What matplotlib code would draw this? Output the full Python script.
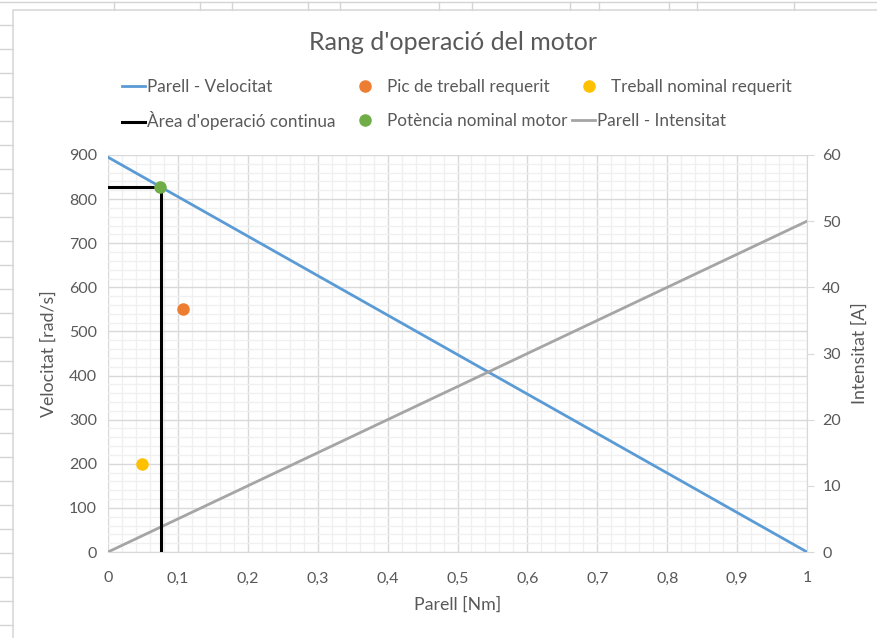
import matplotlib
matplotlib.use('agg')
import matplotlib.pyplot as plt
from matplotlib.lines import Line2D
from matplotlib.ticker import MultipleLocator, FuncFormatter

plt.rcParams['font.family'] = ['Lato', 'DejaVu Sans']

# torque - speed characteristic
parell = [0, 1]
velocitat = [895, 0]
# torque - current characteristic
intensitat = [0, 50]

# continuous operation boundary
area_x = [0, 0.076, 0.076]
area_y = [828, 828, 0]

# working points
pic_x, pic_y = [0.108], [550]
nominal_x, nominal_y = [0.048], [200]
potencia_x, potencia_y = [0.075], [828]

txt = '#595959'
blue = '#5B9BD5'
orange = '#ED7D31'
grey = '#A5A5A5'
yellow = '#FFC000'
green = '#70AD47'

W, H = 877, 638
fig = plt.figure(figsize=(W / 100, H / 100), dpi=100)

# spreadsheet cells behind the chart
cell = '#D4D4D4'
fig.add_artist(Line2D([0, 1], [1 - 2 / H, 1 - 2 / H], color=cell, lw=1))
for xp in [114, 200, 232, 308, 340, 439, 472, 570, 599, 669, 697, 794]:
    fig.add_artist(Line2D([xp / W, xp / W], [1 - 2 / H, 1 - 10 / H], color=cell, lw=1))
yp = 25
while yp < H:
    fig.add_artist(Line2D([0, 13 / W], [1 - yp / H, 1 - yp / H], color=cell, lw=1))
    yp += 24
# chart frame
fig.add_artist(Line2D([13 / W, 13 / W, 1], [0, 1 - 10 / H, 1 - 10 / H], color='#D9D9D9', lw=1.2))

ax = fig.add_axes([108 / W, 1 - 552 / H, 699 / W, 397 / H])
ax2 = ax.twinx()

ax.set_xlim(0, 1)
ax.set_ylim(0, 900)
ax2.set_ylim(0, 60)

ax.xaxis.set_major_locator(MultipleLocator(0.1))
ax.xaxis.set_minor_locator(MultipleLocator(0.02))
ax.yaxis.set_major_locator(MultipleLocator(100))
ax.yaxis.set_minor_locator(MultipleLocator(20))
ax2.yaxis.set_major_locator(MultipleLocator(10))

ax.grid(which='minor', color='#F0F0F0', lw=1)
ax.grid(which='major', color='#D9D9D9', lw=1)
ax.set_axisbelow(True)

ax.xaxis.set_major_formatter(FuncFormatter(lambda v, p: ('%g' % round(v, 2)).replace('.', ',')))

for s in ['top', 'left', 'right', 'bottom']:
    ax.spines[s].set_visible(False)
    ax2.spines[s].set_visible(False)
ax.spines['bottom'].set_visible(True)
ax.spines['bottom'].set_color('#D9D9D9')
ax2.spines['right'].set_visible(True)
ax2.spines['right'].set_color('#D9D9D9')

ax.tick_params(axis='both', which='both', length=0, labelsize=11.5, labelcolor=txt, pad=8)
ax.tick_params(axis='x', pad=14)
ax2.tick_params(axis='y', which='major', length=5, color='#D9D9D9', labelsize=11.5, labelcolor=txt, pad=6)
ax2.tick_params(axis='y', which='minor', length=0)

l1, = ax.plot(parell, velocitat, color=blue, lw=2, label='Parell - Velocitat', zorder=3)
l3, = ax2.plot(parell, intensitat, color=grey, lw=2, label='Parell - Intensitat', zorder=3)
# boundary and points sit on the twin axes so they are drawn over the current line
l2, = ax2.plot(area_x, area_y, color='black', lw=2.2, label="Àrea d'operació continua",
               transform=ax.transData, zorder=4)
p1, = ax2.plot(pic_x, pic_y, 'o', color=orange, ms=8, label='Pic de treball requerit',
               transform=ax.transData, zorder=5)
p2, = ax2.plot(nominal_x, nominal_y, 'o', color=yellow, ms=8, label='Treball nominal requerit',
               transform=ax.transData, zorder=5)
p3, = ax2.plot(potencia_x, potencia_y, 'o', color=green, ms=8, label='Potència nominal motor',
               transform=ax.transData, zorder=5)
ax2.set_ylim(0, 60)

ax.set_xlabel('Parell [Nm]', fontsize=12.8, color=txt, va='center')
ax.set_ylabel('Velocitat [rad/s]', fontsize=12.8, color=txt, va='center')
ax2.set_ylabel('Intensitat [A]', fontsize=12.8, color=txt, va='center')
ax.xaxis.set_label_coords(0.5, (552 - 605) / 397)
ax.yaxis.set_label_coords((49 - 108) / 699, 0.5)
ax2.yaxis.set_label_coords((860 - 108) / 699, 0.5)

fig.text(453 / W, 1 - 42 / H, "Rang d'operació del motor", ha='center', va='center',
         fontsize=18, color=txt)

# legend entries laid out on two rows
entries = [(l1, 122, 87, 0.17), (p1, 354, 87, 0.6), (p2, 578, 87, 0.6),
           (l2, 122, 121, 0.17), (p3, 354, 121, 0.6), (l3, 572, 121, 0.17)]
for h, ex, ey, pad in entries:
    lg = fig.legend(handles=[h], loc='center left', bbox_to_anchor=(ex / W, 1 - ey / H),
                    frameon=False, fontsize=12.3, handlelength=1.32, handletextpad=pad,
                    borderpad=0, borderaxespad=0)
    for t in lg.get_texts():
        t.set_color(txt)

fig.savefig('out.png', dpi=100)
